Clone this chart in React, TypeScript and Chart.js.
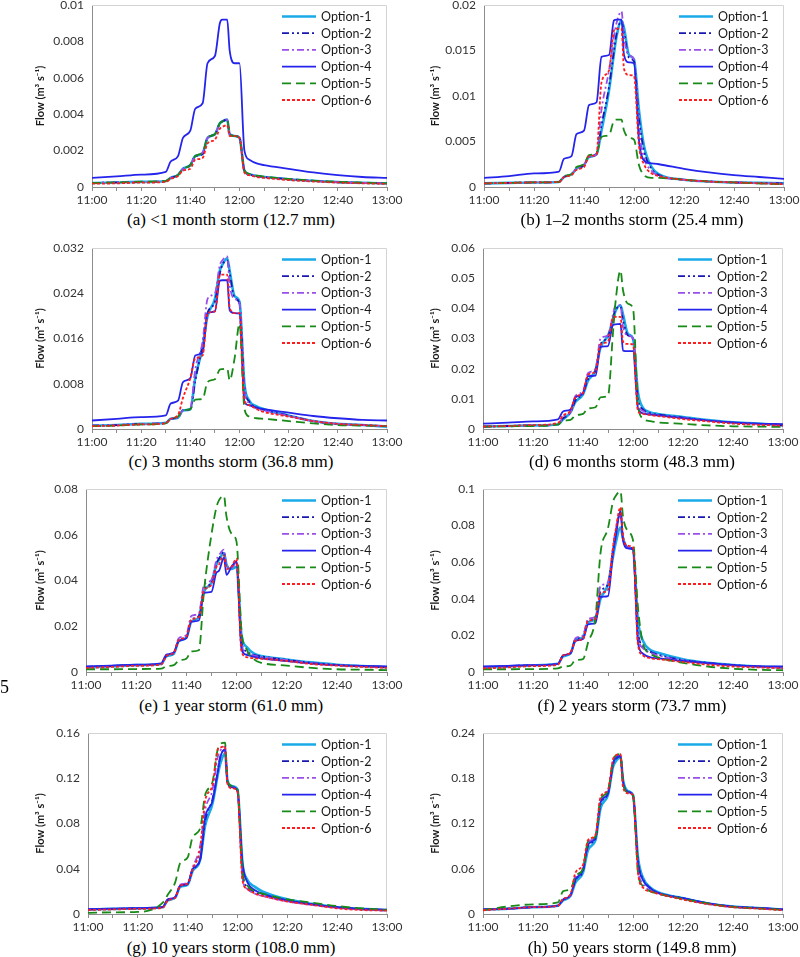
import { useEffect, useRef } from "react";
import { Chart, registerables } from "chart.js";

Chart.register(...registerables);
Chart.defaults.font.family = "Lato, 'Liberation Sans', sans-serif";

// ---- shared axes ----
const MINUTES = [0, 10, 20, 30, 32, 35, 37, 40, 42, 45, 47, 50, 52, 53, 55, 56, 58, 60, 62, 64, 67, 70, 80, 90, 100, 110, 120];
const X_TICK_LABELS = ["11:00", "11:20", "11:40", "12:00", "12:20", "12:40", "13:00"];
const SERIES_NAMES = ["Option-1", "Option-2", "Option-3", "Option-4", "Option-5", "Option-6"];
const Y_TITLE = "Flow (m\u00B3 s\u207B\u00B9)";

// ---- (a) <1 month storm ----
const A_OPT1 = [0.00022, 0.00025, 0.00028, 0.00032, 0.0005, 0.00066, 0.001, 0.0012, 0.0017, 0.00185, 0.0027, 0.0029, 0.0035, 0.0036, 0.0037, 0.0029, 0.0028, 0.0027, 0.0009, 0.0007, 0.0006, 0.00055, 0.00043, 0.00034, 0.00027, 0.00023, 0.0002];
const A_OPT2 = [0.00022, 0.00025, 0.00028, 0.00032, 0.0005, 0.00065, 0.001, 0.0012, 0.0017, 0.0018, 0.0027, 0.0029, 0.0035, 0.0036, 0.0037, 0.0029, 0.0028, 0.0027, 0.0009, 0.0007, 0.0006, 0.00055, 0.00043, 0.00034, 0.00027, 0.00023, 0.0002];
const A_OPT3 = [0.00022, 0.00025, 0.00028, 0.00032, 0.0005, 0.00066, 0.001, 0.0012, 0.0017, 0.0019, 0.0027, 0.0029, 0.0035, 0.0036, 0.0037, 0.0029, 0.0028, 0.0027, 0.0009, 0.0007, 0.0006, 0.00055, 0.00043, 0.00034, 0.00027, 0.00023, 0.0002];
const A_OPT4 = [0.0005, 0.00058, 0.00068, 0.00083, 0.0014, 0.0017, 0.0027, 0.0031, 0.0043, 0.0046, 0.0068, 0.0072, 0.009, 0.0092, 0.0092, 0.0075, 0.0068, 0.0068, 0.002, 0.0015, 0.0013, 0.0012, 0.001, 0.0008, 0.00065, 0.00055, 0.0005];
const A_OPT5 = [0.00022, 0.00025, 0.00029, 0.00033, 0.0005, 0.00066, 0.001, 0.0012, 0.0017, 0.0019, 0.0027, 0.0029, 0.0035, 0.0036, 0.0037, 0.0029, 0.0028, 0.0027, 0.0009, 0.00072, 0.00062, 0.00057, 0.00044, 0.00035, 0.00028, 0.00024, 0.0002];
const A_OPT6 = [0.00018, 0.0002, 0.00024, 0.00028, 0.00045, 0.0006, 0.0009, 0.001, 0.0015, 0.0016, 0.0024, 0.0026, 0.0032, 0.0033, 0.0034, 0.0028, 0.0028, 0.0027, 0.0008, 0.00065, 0.00055, 0.0005, 0.00038, 0.0003, 0.00024, 0.0002, 0.00017];

// ---- (b) 1-2 months storm ----
const B_OPT1 = [0.0004, 0.00045, 0.0005, 0.00055, 0.0011, 0.0014, 0.002, 0.0024, 0.0033, 0.0036, 0.0062, 0.0106, 0.0147, 0.0165, 0.0183, 0.0175, 0.0145, 0.014, 0.0084, 0.0045, 0.0022, 0.0014, 0.0008, 0.0006, 0.0005, 0.00045, 0.0004];
const B_OPT2 = [0.0004, 0.00045, 0.0005, 0.00055, 0.0011, 0.0014, 0.002, 0.0024, 0.0033, 0.0036, 0.0068, 0.011, 0.015, 0.0168, 0.0182, 0.017, 0.0142, 0.0138, 0.0075, 0.004, 0.002, 0.0013, 0.0008, 0.0006, 0.0005, 0.00045, 0.0004];
const B_OPT3 = [0.0004, 0.00045, 0.0005, 0.00055, 0.0011, 0.0014, 0.002, 0.0024, 0.0033, 0.0036, 0.0085, 0.0128, 0.0165, 0.018, 0.0193, 0.0165, 0.0145, 0.014, 0.0065, 0.0032, 0.0018, 0.0012, 0.0008, 0.0006, 0.0005, 0.00045, 0.0004];
const B_OPT4 = [0.001, 0.0012, 0.0015, 0.0017, 0.0031, 0.0034, 0.0058, 0.0062, 0.009, 0.0093, 0.0143, 0.0145, 0.0183, 0.0184, 0.0184, 0.0145, 0.0137, 0.0136, 0.0051, 0.0029, 0.0026, 0.0025, 0.002, 0.0016, 0.0013, 0.0011, 0.0009];
const B_OPT5 = [0.0004, 0.00045, 0.0005, 0.00055, 0.0012, 0.0014, 0.0022, 0.0025, 0.0035, 0.0037, 0.0055, 0.0057, 0.0073, 0.0074, 0.0074, 0.0062, 0.0054, 0.0052, 0.0024, 0.0013, 0.001, 0.001, 0.0008, 0.0006, 0.0005, 0.0004, 0.0003];
const B_OPT6 = [0.0004, 0.00045, 0.0005, 0.00055, 0.0011, 0.0013, 0.0019, 0.0022, 0.0034, 0.0036, 0.0115, 0.0128, 0.0172, 0.0174, 0.0174, 0.013, 0.0123, 0.0122, 0.0045, 0.0025, 0.0015, 0.0012, 0.0008, 0.0006, 0.0005, 0.0004, 0.0003];

// ---- (c) 3 months storm ----
const C_OPT1 = [0.0006, 0.0007, 0.0009, 0.0011, 0.0018, 0.002, 0.0033, 0.0035, 0.009, 0.0145, 0.02, 0.023, 0.028, 0.029, 0.0302, 0.028, 0.0235, 0.0225, 0.008, 0.005, 0.004, 0.0035, 0.0024, 0.0014, 0.0009, 0.0007, 0.0004];
const C_OPT2 = [0.0006, 0.0007, 0.0009, 0.0011, 0.0018, 0.002, 0.0033, 0.0035, 0.0085, 0.015, 0.0205, 0.0225, 0.0275, 0.029, 0.0298, 0.0275, 0.0232, 0.0222, 0.0075, 0.0048, 0.0038, 0.0034, 0.0024, 0.0014, 0.0009, 0.0007, 0.0005];
const C_OPT3 = [0.0006, 0.0007, 0.0009, 0.0011, 0.0018, 0.002, 0.0033, 0.0036, 0.0105, 0.0155, 0.023, 0.024, 0.029, 0.0298, 0.0305, 0.0255, 0.023, 0.0222, 0.007, 0.0045, 0.0036, 0.0033, 0.0023, 0.0014, 0.0009, 0.0007, 0.0005];
const C_OPT4 = [0.0015, 0.0018, 0.0021, 0.0024, 0.0045, 0.005, 0.0083, 0.009, 0.013, 0.0135, 0.0205, 0.0208, 0.0262, 0.0263, 0.0263, 0.021, 0.0205, 0.0204, 0.0048, 0.0042, 0.0038, 0.0035, 0.0029, 0.0023, 0.0019, 0.0016, 0.0015];
const C_OPT5 = [0.0005, 0.0006, 0.0008, 0.001, 0.0018, 0.0022, 0.0033, 0.0035, 0.0052, 0.0053, 0.0083, 0.0088, 0.0105, 0.0106, 0.0107, 0.0086, 0.0125, 0.0186, 0.0036, 0.0022, 0.0019, 0.0018, 0.0014, 0.001, 0.0007, 0.0006, 0.0005];
const C_OPT6 = [0.0005, 0.0006, 0.0008, 0.001, 0.0018, 0.0025, 0.0055, 0.009, 0.0125, 0.013, 0.0205, 0.0208, 0.0272, 0.0273, 0.0273, 0.0215, 0.0205, 0.0205, 0.005, 0.0042, 0.0035, 0.003, 0.0022, 0.0014, 0.0009, 0.0007, 0.0005];

// ---- (d) 6 months storm ----
const D_OPT1 = [0.0008, 0.001, 0.0012, 0.0015, 0.0032, 0.0055, 0.009, 0.0115, 0.016, 0.0195, 0.027, 0.031, 0.036, 0.039, 0.041, 0.038, 0.0315, 0.03, 0.012, 0.007, 0.0055, 0.005, 0.004, 0.003, 0.0022, 0.0018, 0.0012];
const D_OPT2 = [0.0008, 0.001, 0.0012, 0.0015, 0.0035, 0.0055, 0.0095, 0.0118, 0.0165, 0.0195, 0.028, 0.0305, 0.037, 0.0395, 0.0405, 0.036, 0.031, 0.0298, 0.01, 0.0065, 0.0052, 0.0048, 0.0038, 0.0028, 0.0021, 0.0017, 0.0012];
const D_OPT3 = [0.0008, 0.001, 0.0012, 0.0015, 0.004, 0.0058, 0.011, 0.0125, 0.0185, 0.02, 0.03, 0.031, 0.038, 0.041, 0.041, 0.034, 0.031, 0.03, 0.0085, 0.006, 0.005, 0.0046, 0.0037, 0.0028, 0.002, 0.0016, 0.0011];
const D_OPT4 = [0.0018, 0.0021, 0.0025, 0.0032, 0.0058, 0.0065, 0.0105, 0.0118, 0.0175, 0.0177, 0.0272, 0.0275, 0.0345, 0.0347, 0.0348, 0.026, 0.0258, 0.0258, 0.0068, 0.0052, 0.0048, 0.0045, 0.0036, 0.0028, 0.0022, 0.0018, 0.0016];
const D_OPT5 = [0.0008, 0.0009, 0.001, 0.0015, 0.0027, 0.003, 0.0045, 0.005, 0.0068, 0.0072, 0.0105, 0.011, 0.032, 0.042, 0.0525, 0.046, 0.0415, 0.04, 0.008, 0.0035, 0.0026, 0.0022, 0.0017, 0.0012, 0.0009, 0.0008, 0.0007];
const D_OPT6 = [0.0008, 0.001, 0.0013, 0.002, 0.0045, 0.006, 0.0105, 0.012, 0.018, 0.019, 0.028, 0.029, 0.037, 0.0372, 0.0372, 0.029, 0.0282, 0.028, 0.006, 0.005, 0.0046, 0.0043, 0.0033, 0.0025, 0.0018, 0.0014, 0.0011];

// ---- (e) 1 year storm ----
const E_OPT1 = [0.002, 0.0025, 0.003, 0.0035, 0.0068, 0.008, 0.0135, 0.015, 0.022, 0.024, 0.035, 0.039, 0.047, 0.049, 0.052, 0.047, 0.045, 0.046, 0.016, 0.011, 0.008, 0.007, 0.0055, 0.0042, 0.0032, 0.0026, 0.0021];
const E_OPT2 = [0.0022, 0.0026, 0.0031, 0.0036, 0.007, 0.0082, 0.014, 0.0155, 0.023, 0.0245, 0.036, 0.039, 0.0475, 0.0495, 0.0525, 0.0455, 0.046, 0.048, 0.013, 0.009, 0.0075, 0.0068, 0.0053, 0.004, 0.0031, 0.0025, 0.002];
const E_OPT3 = [0.0022, 0.0026, 0.0031, 0.0036, 0.0075, 0.0085, 0.0148, 0.0162, 0.0245, 0.0256, 0.038, 0.0402, 0.049, 0.051, 0.0535, 0.046, 0.0455, 0.048, 0.012, 0.0085, 0.0072, 0.0066, 0.0052, 0.0039, 0.003, 0.0025, 0.002];
const E_OPT4 = [0.0025, 0.0028, 0.0032, 0.0038, 0.0075, 0.0085, 0.0135, 0.0148, 0.022, 0.0225, 0.0345, 0.035, 0.0435, 0.0442, 0.05, 0.0425, 0.046, 0.0485, 0.01, 0.0075, 0.0066, 0.006, 0.0048, 0.0037, 0.003, 0.0027, 0.0025];
const E_OPT5 = [0.0012, 0.0012, 0.0013, 0.0015, 0.0025, 0.003, 0.005, 0.0058, 0.009, 0.0095, 0.035, 0.06, 0.072, 0.075, 0.077, 0.068, 0.0605, 0.057, 0.018, 0.01, 0.0055, 0.004, 0.0028, 0.0018, 0.0012, 0.001, 0.0008];
const E_OPT6 = [0.0018, 0.0022, 0.0027, 0.0033, 0.007, 0.0085, 0.014, 0.0155, 0.023, 0.024, 0.0355, 0.038, 0.046, 0.047, 0.051, 0.045, 0.046, 0.0495, 0.009, 0.0065, 0.006, 0.0058, 0.0048, 0.0035, 0.0028, 0.0022, 0.0018];

// ---- (f) 2 years storm ----
const F_OPT1 = [0.0025, 0.003, 0.0037, 0.0045, 0.0085, 0.0102, 0.0175, 0.019, 0.027, 0.029, 0.04, 0.048, 0.063, 0.07, 0.079, 0.073, 0.068, 0.067, 0.028, 0.017, 0.012, 0.0105, 0.007, 0.005, 0.0038, 0.003, 0.0025];
const F_OPT2 = [0.0026, 0.0031, 0.0038, 0.0045, 0.009, 0.0104, 0.018, 0.0195, 0.028, 0.0298, 0.044, 0.048, 0.067, 0.076, 0.087, 0.074, 0.068, 0.067, 0.022, 0.014, 0.011, 0.0095, 0.0065, 0.005, 0.0038, 0.003, 0.0025];
const F_OPT3 = [0.0026, 0.0031, 0.0038, 0.0045, 0.009, 0.0105, 0.0185, 0.02, 0.029, 0.0302, 0.047, 0.0488, 0.068, 0.077, 0.087, 0.073, 0.068, 0.067, 0.02, 0.013, 0.0105, 0.009, 0.0063, 0.0048, 0.0037, 0.003, 0.0025];
const F_OPT4 = [0.003, 0.0034, 0.0038, 0.0045, 0.009, 0.0102, 0.017, 0.018, 0.026, 0.0268, 0.041, 0.0415, 0.065, 0.073, 0.088, 0.072, 0.0675, 0.067, 0.016, 0.01, 0.008, 0.0075, 0.006, 0.0048, 0.0038, 0.0032, 0.003];
const F_OPT5 = [0.0015, 0.0015, 0.0016, 0.002, 0.003, 0.0035, 0.0065, 0.007, 0.016, 0.03, 0.065, 0.0786, 0.093, 0.096, 0.0987, 0.085, 0.0768, 0.072, 0.035, 0.0155, 0.01, 0.008, 0.005, 0.003, 0.0018, 0.0012, 0.001];
const F_OPT6 = [0.002, 0.0025, 0.0032, 0.004, 0.009, 0.0105, 0.017, 0.018, 0.028, 0.029, 0.043, 0.0448, 0.068, 0.077, 0.09, 0.074, 0.069, 0.068, 0.015, 0.009, 0.0075, 0.007, 0.0055, 0.004, 0.003, 0.0025, 0.002];

// ---- (g) 10 years storm ----
const G_OPT1 = [0.004, 0.0045, 0.005, 0.006, 0.012, 0.0145, 0.024, 0.026, 0.038, 0.048, 0.078, 0.098, 0.122, 0.132, 0.142, 0.118, 0.113, 0.11, 0.045, 0.03, 0.024, 0.02, 0.013, 0.009, 0.006, 0.0045, 0.0035];
const G_OPT2 = [0.004, 0.0045, 0.005, 0.006, 0.0125, 0.0147, 0.025, 0.0265, 0.039, 0.048, 0.082, 0.102, 0.125, 0.138, 0.145, 0.116, 0.112, 0.109, 0.035, 0.024, 0.019, 0.017, 0.012, 0.0085, 0.006, 0.0045, 0.0035];
const G_OPT3 = [0.004, 0.0045, 0.005, 0.006, 0.0128, 0.015, 0.026, 0.0275, 0.041, 0.06, 0.092, 0.11, 0.138, 0.144, 0.148, 0.116, 0.112, 0.109, 0.032, 0.022, 0.018, 0.016, 0.011, 0.008, 0.0055, 0.004, 0.003];
const G_OPT4 = [0.0042, 0.0047, 0.0052, 0.0062, 0.0129, 0.0147, 0.025, 0.0265, 0.04, 0.048, 0.085, 0.1, 0.125, 0.138, 0.1456, 0.116, 0.112, 0.109, 0.045, 0.028, 0.021, 0.018, 0.012, 0.0085, 0.006, 0.0045, 0.0038];
const G_OPT5 = [0.001, 0.0015, 0.0018, 0.01, 0.017, 0.028, 0.045, 0.05, 0.068, 0.0756, 0.105, 0.117, 0.145, 0.15, 0.1515, 0.117, 0.113, 0.11, 0.038, 0.025, 0.02, 0.018, 0.013, 0.01, 0.007, 0.005, 0.0035];
const G_OPT6 = [0.0035, 0.004, 0.0045, 0.0055, 0.012, 0.0145, 0.025, 0.027, 0.04, 0.058, 0.1, 0.114, 0.145, 0.147, 0.148, 0.115, 0.111, 0.108, 0.03, 0.022, 0.018, 0.016, 0.011, 0.008, 0.005, 0.0035, 0.003];

// ---- (h) 50 years storm ----
const H_OPT1 = [0.006, 0.007, 0.009, 0.011, 0.018, 0.024, 0.042, 0.055, 0.085, 0.098, 0.14, 0.158, 0.195, 0.202, 0.208, 0.178, 0.163, 0.158, 0.075, 0.048, 0.035, 0.029, 0.021, 0.014, 0.0098, 0.008, 0.006];
const H_OPT2 = [0.006, 0.007, 0.009, 0.011, 0.019, 0.025, 0.045, 0.057, 0.09, 0.1, 0.145, 0.16, 0.198, 0.205, 0.209, 0.176, 0.162, 0.157, 0.07, 0.046, 0.034, 0.028, 0.021, 0.014, 0.0097, 0.008, 0.006];
const H_OPT3 = [0.006, 0.007, 0.009, 0.011, 0.02, 0.025, 0.05, 0.06, 0.095, 0.102, 0.15, 0.162, 0.202, 0.208, 0.211, 0.175, 0.162, 0.157, 0.06, 0.04, 0.031, 0.027, 0.02, 0.014, 0.0097, 0.008, 0.006];
const H_OPT4 = [0.006, 0.007, 0.009, 0.011, 0.019, 0.025, 0.046, 0.058, 0.092, 0.101, 0.148, 0.16, 0.2, 0.206, 0.21, 0.176, 0.162, 0.157, 0.068, 0.045, 0.034, 0.028, 0.021, 0.014, 0.0097, 0.008, 0.006];
const H_OPT5 = [0.005, 0.01, 0.0128, 0.0154, 0.03, 0.033, 0.05, 0.06, 0.096, 0.103, 0.152, 0.163, 0.204, 0.21, 0.212, 0.174, 0.161, 0.157, 0.055, 0.037, 0.03, 0.027, 0.02, 0.014, 0.0095, 0.0075, 0.0055];
const H_OPT6 = [0.005, 0.007, 0.009, 0.011, 0.02, 0.026, 0.055, 0.065, 0.098, 0.105, 0.155, 0.165, 0.205, 0.21, 0.212, 0.168, 0.16, 0.158, 0.055, 0.035, 0.03, 0.027, 0.019, 0.013, 0.009, 0.007, 0.005];

// ---- panel texts & axis ranges ----
const CAPTIONS = [
  "(a) <1 month storm (12.7 mm)",
  "(b) 1\u20132 months storm (25.4 mm)",
  "(c) 3 months storm (36.8 mm)",
  "(d) 6 months storm (48.3 mm)",
  "(e) 1 year storm (61.0 mm)",
  "(f) 2 years storm (73.7 mm)",
  "(g) 10 years storm (108.0 mm)",
  "(h) 50 years storm (149.8 mm)",
];
const Y_MAX = [0.01, 0.02, 0.032, 0.06, 0.08, 0.1, 0.16, 0.24];
const Y_STEP = [0.002, 0.005, 0.008, 0.01, 0.02, 0.02, 0.04, 0.06];
const PANEL_SERIES = [
  [A_OPT1, A_OPT2, A_OPT3, A_OPT4, A_OPT5, A_OPT6],
  [B_OPT1, B_OPT2, B_OPT3, B_OPT4, B_OPT5, B_OPT6],
  [C_OPT1, C_OPT2, C_OPT3, C_OPT4, C_OPT5, C_OPT6],
  [D_OPT1, D_OPT2, D_OPT3, D_OPT4, D_OPT5, D_OPT6],
  [E_OPT1, E_OPT2, E_OPT3, E_OPT4, E_OPT5, E_OPT6],
  [F_OPT1, F_OPT2, F_OPT3, F_OPT4, F_OPT5, F_OPT6],
  [G_OPT1, G_OPT2, G_OPT3, G_OPT4, G_OPT5, G_OPT6],
  [H_OPT1, H_OPT2, H_OPT3, H_OPT4, H_OPT5, H_OPT6],
];

// ---- styling / layout ----
const SERIES_STYLE = [
  { color: "#1aaae8", width: 2.6, dash: [] as number[] },
  { color: "#1818b0", width: 1.8, dash: [7, 3, 2, 3, 2, 3] },
  { color: "#9b4fea", width: 1.8, dash: [7, 3, 2, 3] },
  { color: "#2424ec", width: 1.8, dash: [] as number[] },
  { color: "#178a17", width: 1.8, dash: [9, 5] },
  { color: "#ff1c1c", width: 1.8, dash: [3, 2] },
];

const PLOTS = [
  { col: 0, left: 92, top: 5, right: 387, bottom: 187, capY: 220 },
  { col: 1, left: 484, top: 5, right: 784, bottom: 187, capY: 220 },
  { col: 0, left: 92, top: 248, right: 387, bottom: 429, capY: 462 },
  { col: 1, left: 483, top: 248, right: 783, bottom: 429, capY: 462 },
  { col: 0, left: 86, top: 489, right: 387, bottom: 672, capY: 706 },
  { col: 1, left: 483, top: 489, right: 783, bottom: 672, capY: 706 },
  { col: 0, left: 88, top: 733, right: 387, bottom: 914, capY: 948 },
  { col: 1, left: 483, top: 733, right: 783, bottom: 914, capY: 948 },
];
const CAPTION_CX = [231, 632];
const TITLE_CX = [40, 35];
const CANVAS_W = [420, 400];
const PAD_TOP = 5;
const X_AXIS_H = 22;

const frameLegendPlugin = {
  id: "frameLegend",
  beforeDatasetsDraw(chart: any) {
    const { ctx, chartArea: a } = chart;
    ctx.save();
    ctx.strokeStyle = "#d4d4d4";
    ctx.lineWidth = 1;
    ctx.beginPath();
    ctx.moveTo(a.left, a.top + 0.5);
    ctx.lineTo(a.right - 0.5, a.top + 0.5);
    ctx.lineTo(a.right - 0.5, a.bottom);
    ctx.stroke();
    ctx.restore();
  },
  afterDatasetsDraw(chart: any) {
    const { ctx, chartArea: a } = chart;
    ctx.save();
    chart.data.datasets.forEach((ds: any, i: number) => {
      const y = a.top + 11.5 + i * 16.7;
      ctx.strokeStyle = ds.borderColor;
      ctx.lineWidth = ds.borderWidth;
      ctx.setLineDash(ds.borderDash || []);
      ctx.beginPath();
      ctx.moveTo(a.right - 105, y);
      ctx.lineTo(a.right - 71, y);
      ctx.stroke();
      ctx.setLineDash([]);
      ctx.fillStyle = "#1a1a1a";
      ctx.font = "12.5px Lato, 'Liberation Sans', sans-serif";
      ctx.textBaseline = "middle";
      ctx.textAlign = "left";
      ctx.fillText(ds.label, a.right - 66, y + 0.5);
    });
    ctx.restore();
  },
};

function fmtY(v: number) {
  return String(parseFloat(Number(v).toFixed(4)));
}

function Panel({ index }: { index: number }) {
  const ref = useRef<HTMLCanvasElement>(null);
  const p = PLOTS[index];
  const canvasLeft = p.col * 400;
  const canvasW = CANVAS_W[p.col];
  const canvasTop = p.top - PAD_TOP;
  const canvasH = PAD_TOP + (p.bottom - p.top) + X_AXIS_H;
  useEffect(() => {
    if (!ref.current) return;
    const titlePadTop = 4;
    const padLeft = TITLE_CX[p.col] - 6.6 - titlePadTop;
    const yWidth = p.left - canvasLeft - padLeft;
    const padRight = canvasLeft + canvasW - p.right;
    const datasets = PANEL_SERIES[index].map((vals, i) => ({
      label: SERIES_NAMES[i],
      data: MINUTES.map((m, k) => ({ x: m, y: vals[k] })),
      borderColor: SERIES_STYLE[i].color,
      backgroundColor: SERIES_STYLE[i].color,
      borderWidth: SERIES_STYLE[i].width,
      borderDash: SERIES_STYLE[i].dash,
      pointRadius: 0,
      fill: false,
      cubicInterpolationMode: "monotone" as const,
      order: 6 - i,
    }));
    const chart = new Chart(ref.current, {
      type: "line",
      data: { datasets },
      options: {
        animation: false,
        responsive: false,
        maintainAspectRatio: false,
        events: [],
        layout: { padding: { left: padLeft, right: padRight, top: PAD_TOP, bottom: 0 } },
        plugins: { legend: { display: false }, tooltip: { enabled: false } },
        scales: {
          x: {
            type: "linear",
            min: 0,
            max: 120,
            afterFit: (s: any) => {
              s.height = X_AXIS_H;
              s.paddingLeft = 0;
              s.paddingRight = 0;
            },
            border: { color: "#8c8c8c", width: 1 },
            grid: { drawOnChartArea: false, drawTicks: true, tickLength: 4, color: "#8c8c8c" },
            ticks: {
              stepSize: 10,
              autoSkip: false,
              maxRotation: 0,
              padding: 2,
              color: "#333333",
              font: { size: 12 },
              callback: (v: any) => (Number(v) % 20 === 0 ? X_TICK_LABELS[Number(v) / 20] : ""),
            },
          },
          y: {
            min: 0,
            max: Y_MAX[index],
            afterFit: (s: any) => {
              s.width = yWidth;
              s.paddingTop = 0;
              s.paddingBottom = 0;
            },
            border: { color: "#8c8c8c", width: 1 },
            grid: { display: false, drawTicks: false },
            ticks: {
              stepSize: Y_STEP[index],
              padding: 8,
              color: "#333333",
              font: { size: 12 },
              callback: (v: any) => fmtY(Number(v)),
            },
            title: {
              display: true,
              text: Y_TITLE,
              color: "#1a1a1a",
              font: { size: 11, weight: "bold" },
              padding: { top: titlePadTop, bottom: 4 },
            },
          },
        },
      },
      plugins: [frameLegendPlugin],
    } as any);
    return () => chart.destroy();
  }, [index]);
  return (
    <canvas
      ref={ref}
      width={canvasW}
      height={canvasH}
      style={{ position: "absolute", left: canvasLeft, top: canvasTop, width: canvasW, height: canvasH }}
    />
  );
}

export default function App() {
  return (
    <div style={{ position: "absolute", left: 0, top: 0, width: 800, height: 957, background: "#fff", overflow: "hidden" }}>
      {PLOTS.map((p, i) => (
        <Panel key={i} index={i} />
      ))}
      {PLOTS.map((p, i) => (
        <div
          key={"c" + i}
          style={{
            position: "absolute",
            left: CAPTION_CX[p.col] - 200,
            width: 400,
            top: p.capY - 10,
            height: 20,
            lineHeight: "20px",
            textAlign: "center",
            fontFamily: "'Liberation Serif', 'Times New Roman', serif",
            fontSize: 17,
            color: "#000",
            whiteSpace: "nowrap",
          }}
        >
          {CAPTIONS[i]}
        </div>
      ))}
      <div
        style={{
          position: "absolute",
          left: 0,
          top: 677,
          lineHeight: "20px",
          fontFamily: "'Liberation Serif', 'Times New Roman', serif",
          fontSize: 18,
          color: "#000",
        }}
      >
        5
      </div>
    </div>
  );
}
